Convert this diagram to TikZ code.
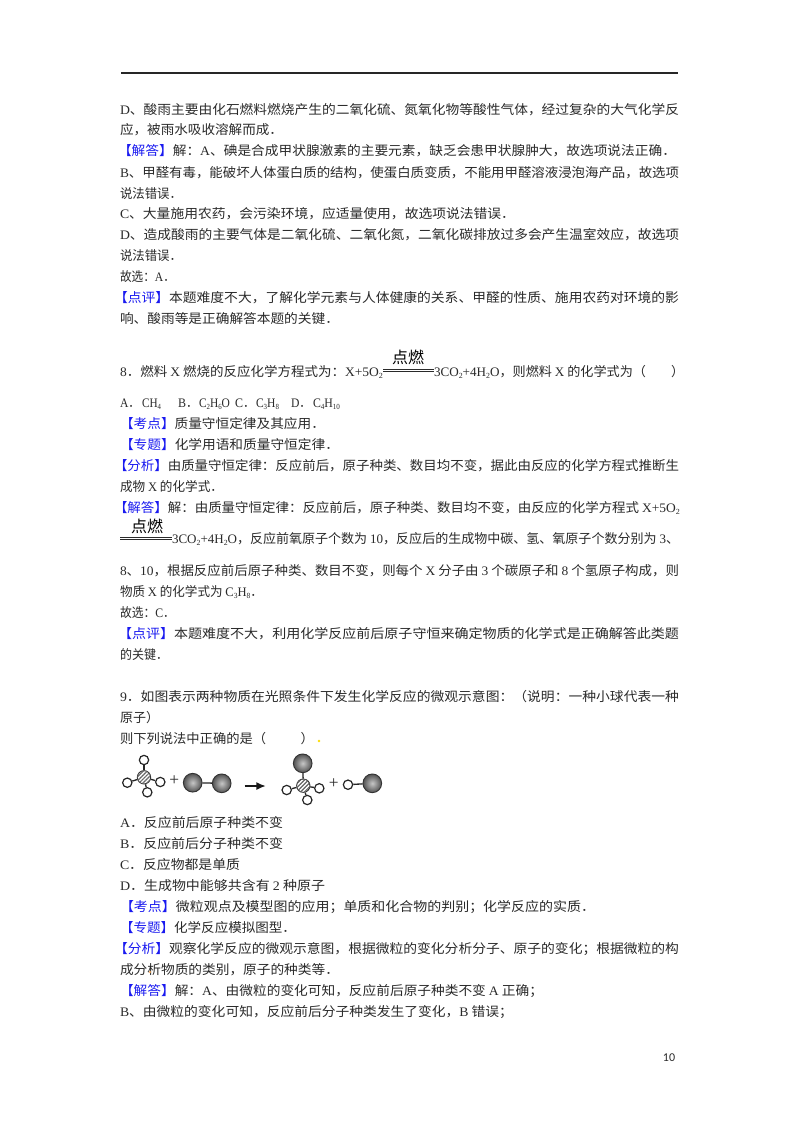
\documentclass[tikz,border=0pt]{standalone}
\usepackage{fontspec}
\usepackage{graphicx}
\usetikzlibrary{patterns.meta,arrows.meta}
\setmainfont{Noto Sans CJK SC}
\newfontfamily\latf{Liberation Serif}
\newfontfamily\pagef{Carlito}
\newcommand\La[1]{{\latf #1}}
\newcommand\Sb[1]{\raisebox{-0.18em}{\scalebox{0.6}{\latf #1}}}
\newcommand\Bk[1]{{\color{tagblue}【#1】}}
\definecolor{tagblue}{HTML}{1A1AF0}
\definecolor{inktext}{HTML}{2A2A2A}
\newdimen\tlw
\newcommand\tl[5]{\tlw=0.75pt \tlw=#4\tlw
  \node[txt] (#1) at (#2,#3+5) {\resizebox{\tlw}{\height}{#5}};}
\tikzset{
  txt/.style={anchor=base west,inner sep=0pt,outer sep=0pt,font=\fontsize{9.75pt}{12pt}\selectfont,text=inktext},
  ignite/.style={inner sep=0pt,outer sep=0pt,font=\fontsize{12pt}{14pt}\selectfont,text=black},
  eqrule/.style={draw=inktext,line width=0.6pt,double=white,double distance=0.7pt},
  bond/.style={draw=black!85,line width=1pt},
  small/.style={circle,draw=black!85,fill=white,line width=0.9pt,minimum size=7pt,inner sep=0pt},
  hatched/.style={circle,draw=black!80,line width=0.7pt,minimum size=10pt,inner sep=0pt,fill=white,
    postaction={pattern={Lines[angle=45,distance=2.1pt,line width=0.9pt]},pattern color=black!60}},
  big/.style={circle,draw=black!80,line width=0.7pt,minimum size=14pt,inner sep=0pt,shade,inner color=black!22,outer color=black!68},
  plus/.style={inner sep=0pt,font=\fontsize{13pt}{14pt}\latf,text=inktext},
  speck/.style={fill=#1,draw=none}
}
\begin{document}
\begin{tikzpicture}[x=0.75pt,y=-0.75pt]
\useasboundingbox (0,0) rectangle (800,1132);
\fill[white] (0,0) rectangle (800,1132);
\coordinate (ruleL) at (121,73);
\coordinate (ruleR) at (678,73);
\draw[line width=1.1pt,draw=black!85] (ruleL) -- (ruleR);
% block 1
\tl{a1}{120}{109}{559}{\La{D}、酸雨主要由化石燃料燃烧产生的二氧化硫、氮氧化物等酸性气体，经过复杂的大气化学反}
\tl{a2}{120}{129}{163}{应，被雨水吸收溶解而成．}
\tl{a3}{118}{150}{558}{\Bk{解答}解：\La{A}、碘是合成甲状腺激素的主要元素，缺乏会患甲状腺肿大，故选项说法正确．}
\tl{a4}{120}{172}{559}{\La{B}、甲醛有毒，能破坏人体蛋白质的结构，使蛋白质变质，不能用甲醛溶液浸泡海产品，故选项}
\tl{a5}{120}{193}{62}{说法错误．}
\tl{a6}{120}{213}{395}{\La{C}、大量施用农药，会污染环境，应适量使用，故选项说法错误．}
\tl{a7}{120}{234}{559}{\La{D}、造成酸雨的主要气体是二氧化硫、二氧化氮，二氧化碳排放过多会产生温室效应，故选项}
\tl{a8}{120}{255}{62}{说法错误．}
\tl{a9}{120}{276}{55}{故选：\La{A}．}
\tl{a10}{114}{297}{565}{\Bk{点评}本题难度不大，了解化学元素与人体健康的关系、甲醛的性质、施用农药对环境的影}
\tl{a11}{120}{318}{219}{响、酸雨等是正确解答本题的关键．}
% question 8
\tl{b1}{120}{371}{263}{\La{8}．燃料 \La{X} 燃烧的反应化学方程式为：\La{X+5O}\Sb{2}}
\coordinate (e1L) at (383,370.5);
\coordinate (e1R) at (434,370.5);
\draw[eqrule] (e1L) -- (e1R);
\node[ignite] (ig1) at (408,357) {点燃};
\tl{b2}{434}{371}{212}{\La{3CO}\Sb{2}\La{+4H}\Sb{2}\La{O}，则燃料 \La{X} 的化学式为（}
\node[txt] (b3) at (671,376) {）};
\tl{c1}{120}{402}{20}{\La{A}．}
\tl{c1b}{142}{402}{19}{\La{CH}\Sb{4}}
\tl{c2}{178}{402}{20}{\La{B}．}
\tl{c2b}{199}{402}{31}{\La{C}\Sb{2}\La{H}\Sb{6}\La{O}}
\tl{c3}{235}{402}{20}{\La{C}．}
\tl{c3b}{256}{402}{23}{\La{C}\Sb{3}\La{H}\Sb{8}}
\tl{c4}{291}{402}{20}{\La{D}．}
\tl{c4b}{313}{402}{27}{\La{C}\Sb{4}\La{H}\Sb{10}}
\tl{c5}{120}{423}{205}{\Bk{考点}质量守恒定律及其应用．}
\tl{c6}{120}{444}{219}{\Bk{专题}化学用语和质量守恒定律．}
\tl{c7}{114}{465}{565}{\Bk{分析}由质量守恒定律：反应前后，原子种类、数目均不变，据此由反应的化学方程式推断生}
\tl{c8}{120}{486}{103}{成物 \La{X} 的化学式．}
\tl{c9}{114}{507}{566}{\Bk{解答}解：由质量守恒定律：反应前后，原子种类、数目均不变，由反应的化学方程式 \La{X+5O}\Sb{2}}
\coordinate (e2L) at (120,538.5);
\coordinate (e2R) at (172,538.5);
\draw[eqrule] (e2L) -- (e2R);
\node[ignite] (ig2) at (147,526) {点燃};
\tl{d1}{172}{538}{507}{\La{3CO}\Sb{2}\La{+4H}\Sb{2}\La{O}，反应前氧原子个数为 \La{10}，反应后的生成物中碳、氢、氧原子个数分别为 \La{3}、}
\tl{d2}{120}{570}{559}{\La{8}、\La{10}，根据反应前后原子种类、数目不变，则每个 \La{X} 分子由 \La{3} 个碳原子和 \La{8} 个氢原子构成，则}
\tl{d3}{120}{591}{143}{物质 \La{X} 的化学式为 \La{C}\Sb{3}\La{H}\Sb{8}．}
\tl{d4}{120}{612}{55}{故选：\La{C}．}
\tl{d5}{118}{633}{561}{\Bk{点评}本题难度不大，利用化学反应前后原子守恒来确定物质的化学式是正确解答此类题}
\tl{d6}{120}{654}{48}{的关键．}
% question 9
\tl{e1}{120}{696}{559}{\La{9}．如图表示两种物质在光照条件下发生化学反应的微观示意图：（说明：一种小球代表一种}
\tl{e2}{120}{717}{39}{原子）}
\tl{e3}{120}{738}{194}{则下列说法中正确的是（\hspace{2.6em}）}
% molecules
\node[hatched] (h1) at (144,777.3) {};
\node[small] (s1) at (144,760) {};
\node[small] (s2) at (127.3,782.7) {};
\node[small] (s3) at (160.3,782) {};
\node[small] (s4) at (147.3,792.3) {};
\draw[bond] (h1) -- (s1); \draw[bond] (h1) -- (s2); \draw[bond] (h1) -- (s3); \draw[bond] (h1) -- (s4);
\node[plus] (p1) at (174.3,781) {+};
\node[big] (g1) at (192.7,782.7) {};
\node[big] (g2) at (221.7,783.3) {};
\draw[bond] (g1) -- (g2);
\coordinate (arL) at (244.7,786);
\coordinate (arR) at (265.7,786);
\draw[line width=1.1pt,draw=black!90,-{Latex[length=7pt,width=6pt]}] (arL) -- (arR);
\node[hatched] (h2) at (303.3,785.7) {};
\node[big] (g3) at (302.7,763.3) {};
\node[small] (s5) at (286.7,790) {};
\node[small] (s6) at (319.3,788.3) {};
\node[small] (s7) at (307.3,800) {};
\draw[bond] (h2) -- (g3); \draw[bond] (h2) -- (s5); \draw[bond] (h2) -- (s6); \draw[bond] (h2) -- (s7);
\node[plus] (p2) at (333.7,784) {+};
\node[small] (s8) at (348,784.7) {};
\node[big] (g4) at (372.3,783.3) {};
\draw[bond] (s8) -- (g4);
% options
\tl{f1}{120}{822}{163}{\La{A}．反应前后原子种类不变}
\tl{f2}{120}{843}{163}{\La{B}．反应前后分子种类不变}
\tl{f3}{120}{864}{120}{\La{C}．反应物都是单质}
\tl{f4}{120}{885}{205}{\La{D}．生成物中能够共含有 \La{2} 种原子}
\tl{f5}{120}{906}{475}{\Bk{考点}微粒观点及模型图的应用；单质和化合物的判别；化学反应的实质．}
\tl{f6}{120}{927}{176}{\Bk{专题}化学反应模拟图型．}
\tl{f7}{114}{948}{565}{\Bk{分析}观察化学反应的微观示意图，根据微粒的变化分析分子、原子的变化；根据微粒的构}
\tl{f8}{120}{969}{219}{成分析物质的类别，原子的种类等．}
\tl{f9}{120}{990}{423}{\Bk{解答}解：\La{A}、由微粒的变化可知，反应前后原子种类不变 \La{A} 正确；}
\tl{f10}{120}{1011}{393}{\La{B}、由微粒的变化可知，反应前后分子种类发生了变化，\La{B} 错误；}
\node[inner sep=0pt,font=\fontsize{9pt}{10pt}\pagef,text=inktext] (pg) at (669,1058) {10};
% specks
\fill[speck=yellow!80!orange] (319,741) circle (1pt);
\fill[speck=orange!70] (150,972) circle (0.8pt);
\end{tikzpicture}
\end{document}
